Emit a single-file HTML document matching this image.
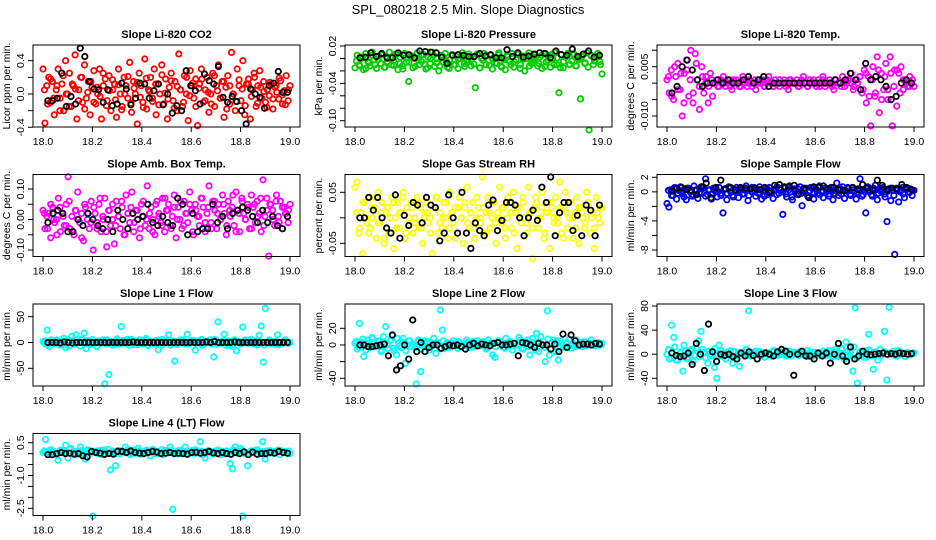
<!DOCTYPE html>
<html><head><meta charset="utf-8"><title>Slope Diagnostics</title>
<style>
html,body{margin:0;padding:0;background:#fff;}
svg{display:block;font-family:"Liberation Sans",Arial,sans-serif;}
</style></head>
<body>
<svg id="chart" width="936" height="540" viewBox="0 0 936 540" xmlns="http://www.w3.org/2000/svg">
<rect width="936" height="540" fill="#fff"/>
<text x="468" y="14" font-size="13" text-anchor="middle">SPL_080218  2.5 Min. Slope Diagnostics</text>
</svg>
<script>
const xTicks = [18.0, 18.2, 18.4, 18.6, 18.8, 19.0];
const xTickLabels = ["18.0", "18.2", "18.4", "18.6", "18.8", "19.0"];
const titles = ["Slope Li-820 CO2","Slope Li-820 Pressure","Slope Li-820 Temp.","Slope Amb. Box Temp.","Slope Gas Stream RH","Slope Sample Flow","Slope Line 1 Flow","Slope Line 2 Flow","Slope Line 3 Flow","Slope Line 4 (LT) Flow"];
const yLabels = ["Licor ppm per min.","kPa per min.","degrees C per min.","degrees C per min.","percent per min.","ml/min per min.","ml/min per min.","ml/min per min.","ml/min per min.","ml/min per min."];
const colors = ["#ff0000","#00cc00","#ff00ff","#ff00ff","#ffff00","#0000ff","#00ffff","#00ffff","#00ffff","#00ffff"];

const yTicks0 = [-0.4,-0.2,0,0.2,0.4];
const yTickLabels0 = ["-0.4","","0.0","","0.4"];
const yTicks1 = [0.02,0,-0.02,-0.04,-0.06,-0.08,-0.10];
const yTickLabels1 = ["0.02","","","-0.04","","","-0.10"];
const yTicks2 = [0.01,0.005,0,-0.005,-0.01];
const yTickLabels2 = ["","0.005","","","-0.010"];
const yTicks3 = [0.1,0.05,0,-0.05,-0.1];
const yTickLabels3 = ["0.10","","0.00","","-0.10"];
const yTicks4 = [0.05,0,-0.05];
const yTickLabels4 = ["0.05","","-0.05"];
const yTicks5 = [2,0,-2,-4,-6,-8];
const yTickLabels5 = ["2","0","","-4","","-8"];
const yTicks6 = [50,0,-50];
const yTickLabels6 = ["50","0","-50"];
const yTicks7 = [20,0,-20,-40];
const yTickLabels7 = ["20","0","","-40"];
const yTicks8 = [80,40,0,-40];
const yTickLabels8 = ["80","40","0","-40"];
const yTicks9 = [0.5,0,-0.5,-1.0,-1.5,-2.0,-2.5];
const yTickLabels9 = ["0.5","","","-1.0","","","-2.5"];

const co2 = [0.3,-0.35,0.1,0.2,-0.1,0.15,-0.25,0.05,0.3,-0.05,0.12,-0.2,0.4,0.0,0.25,-0.15,0.1,0.47,-0.3,0.05,0.2,-0.1,0.35,-0.05,0.15,-0.25,0.08,0.28,-0.12,0.0,0.3,-0.3,0.1,0.18,-0.08,0.22,-0.2,0.05,0.12,-0.28,0.3,0.0,-0.15,0.2,0.1,-0.05,0.38,-0.22,0.15,0.0,-0.36,0.25,0.1,-0.1,0.42,-0.18,0.05,0.2,-0.05,0.3,-0.25,0.12,0.0,0.35,-0.12,0.18,-0.3,0.08,0.25,-0.08,0.15,-0.2,0.48,0.05,-0.15,0.22,0.0,-0.32,0.28,0.1,-0.05,0.18,-0.38,0.12,0.3,-0.1,0.05,0.2,-0.22,0.0,0.25,-0.15,0.1,0.35,-0.05,0.15,-0.28,0.08,0.22,-0.12,0.5,0.0,-0.2,0.3,0.1,-0.08,0.4,-0.25,0.12,0.18,-0.3,0.05,0.25,-0.15,0.1,0.28,-0.05,0.15,-0.1,0.05,-0.02,0.12,-0.18,0.08,0.02,-0.06,0.16,-0.12,0.04,0.22,-0.08,0.1];
const co2Band = [0.05,-0.12,0.18,-0.05,0.1,-0.2,0.22,0.0,-0.15,0.12,0.06,-0.08,0.2,-0.18,0.02,0.15,-0.1,0.08,-0.03,0.25,-0.14,0.04,0.17,-0.07,0.11,-0.19,0.0,0.21,-0.11,0.07,0.14,-0.04,-0.16,0.19,0.03,-0.09,0.12,-0.13,0.23,0.01,-0.06,0.16,-0.17,0.09,0.05,-0.1,0.2,-0.02,0.13,-0.15,0.07,0.18,-0.08,0.02,-0.12,0.22,0.04,-0.05,0.15,-0.18,0.1,0.0,-0.09,0.17,0.06,-0.14,0.12,-0.03,0.2,-0.11,0.08,0.03,-0.16,0.14,-0.06,0.1,0.19,-0.01,-0.13,0.05];
const co2Ref = [-0.08,-0.08,-0.05,0.25,-0.15,-0.03,-0.12,0.55,0.45,0.15,0.06,0.05,-0.1,0.05,-0.14,-0.12,0.13,0.06,-0.13,-0.05,0.13,0.12,-0.05,0.04,0.12,-0.13,0.0,-0.23,-0.14,-0.2,0.28,0.1,0.04,-0.12,0.24,0.16,0.12,0.33,-0.04,-0.1,-0.03,-0.09,-0.2,-0.36,0.06,0.0,-0.04,-0.17,0.1,0.13,0.27,0.02,0.02];

const press = [-0.015,0.005,-0.01,0.0,-0.018,0.008,-0.005,-0.012,0.01,-0.002,-0.016,0.004,-0.008,0.006,-0.014,0.0,0.01,-0.01,-0.004,0.007,-0.018,0.002,-0.012,0.008,-0.006,-0.037,0.004,-0.015,0.0,0.009,-0.01,-0.005,0.006,-0.017,0.002,-0.008,0.01,-0.013,0.0,-0.02,0.005,-0.006,0.008,-0.014,-0.002,0.006,-0.01,0.004,-0.016,0.0,0.009,-0.008,-0.003,0.007,-0.012,0.002,-0.047,0.006,-0.015,0.0,0.008,-0.01,-0.004,0.005,-0.017,0.002,-0.008,0.009,-0.012,0.0,-0.018,0.006,-0.005,0.008,-0.014,-0.002,0.007,-0.01,0.004,-0.02,0.0,0.009,-0.008,-0.003,0.006,-0.012,0.002,-0.016,0.008,-0.006,0.004,-0.014,0.0,0.01,-0.01,-0.055,0.006,-0.015,0.002,0.008,-0.01,-0.004,0.007,-0.012,0.0,-0.065,0.006,-0.008,0.009,-0.115,0.004,-0.01,0.002,0.008,-0.005,-0.025];
const pressBand = [-0.004,-0.012,0.003,-0.016,-0.007,0.005,-0.01,-0.002,0.006,-0.014,-0.005,0.002,-0.011,0.007,-0.008,-0.017,0.001,-0.006,0.004,-0.013,-0.003,0.006,-0.009,-0.015,0.0,0.005,-0.007,-0.012,0.003,-0.004,-0.016,0.006,-0.01,-0.001,0.004,-0.013,-0.006,0.002,-0.009,0.007,-0.015,-0.003,0.005,-0.011,0.0,-0.007,0.006,-0.014,-0.002,0.003,-0.01,-0.005,0.007,-0.016,-0.001,0.004,-0.012,-0.006,0.002,-0.008,0.005,-0.013,-0.003,0.006,-0.01,0.001,-0.015,-0.005,0.004,-0.009,0.007,-0.012,-0.002,0.003,-0.007,-0.014,0.005,-0.004,0.002,-0.01];
const pressRef = [0.001,0.002,0.009,0.003,0.008,0.001,0.001,0.009,0.005,0.006,0.001,0.012,0.011,0.01,0.009,0.002,-0.008,0.005,0.006,0.005,0.003,0.003,0.008,0.004,0.006,0.001,0.001,0.014,0.003,0.009,0.002,0.004,0.007,0.009,0.008,0.001,0.012,0.006,0.005,0.015,0.003,0.007,0.012,0.002,0.005];

const temp = [0.001,-0.003,0.004,-0.005,0.002,0.006,-0.002,-0.01,0.003,0.007,-0.004,0.01,-0.006,0.009,0.001,-0.008,0.005,-0.003,0.002,-0.006,0.003,-0.004,0.0,0.001,-0.001,0.0,0.002,-0.001,0.0,0.001,-0.002,0.0,0.001,0.0,-0.001,0.002,0.0,-0.001,0.001,0.0,0.0,-0.002,0.001,0.0,0.001,-0.001,0.0,0.002,0.0,-0.001,0.001,0.0,-0.001,0.0,0.001,0.0,-0.002,0.001,0.0,0.0,0.001,-0.001,0.0,0.002,0.0,-0.001,0.001,0.0,0.0,-0.001,0.001,0.0,0.002,-0.001,0.0,0.001,0.0,-0.002,0.001,0.0,0.0,0.002,-0.001,0.0,0.001,0.003,-0.002,0.001,0.0,0.002,-0.003,0.004,-0.006,0.002,-0.013,0.005,-0.004,0.008,-0.009,0.003,-0.002,0.006,-0.005,0.008,-0.013,0.004,-0.007,0.003,0.005,-0.002,0.001,-0.001,0.002,0.0,-0.001];
const tempBand = [0.002,-0.004,0.005,-0.002,0.003,-0.006,0.004,0.001,-0.003,0.006,-0.001,0.002,0.0,-0.001,0.001,0.0,-0.001,0.001,0.0,0.0,-0.001,0.001,0.0,-0.001,0.0,0.001,0.0,-0.001,0.001,0.0,0.0,-0.001,0.001,0.0,-0.001,0.0,0.001,0.0,-0.001,0.001,0.0,0.0,-0.001,0.001,0.0,-0.001,0.0,0.001,0.0,-0.001,0.001,0.0,0.0,-0.001,0.001,0.0,-0.001,0.0,0.001,0.0,-0.001,0.001,0.002,-0.002,0.003,-0.004,0.001,-0.003,0.004,-0.005,0.002,-0.002,0.003,-0.001,0.004,-0.003,0.001,0.0,-0.001,0.001];
const tempRef = [-0.003,-0.001,0.005,0.007,0.004,0.001,-0.001,0.0,0.0,0.001,0.0,0.001,0.0,0.0,0.001,0.002,0.0,0.001,0.002,-0.001,0.0,0.0,0.0,0.0,0.0,0.0,0.0,0.0,0.0,0.0,0.0,0.0,0.001,0.0,0.001,0.003,0.001,-0.002,0.006,0.001,0.002,0.001,-0.001,-0.005,-0.004,0.0,0.001,0.0];

const amb = [0.03,-0.03,0.01,0.02,-0.06,0.04,-0.01,0.0,0.07,-0.04,0.02,-0.02,0.05,0.14,-0.03,0.01,-0.05,0.03,0.09,-0.01,0.02,-0.07,0.04,0.0,-0.03,0.06,-0.1,0.02,-0.01,0.05,-0.04,0.01,0.07,-0.09,0.03,-0.02,0.0,-0.08,0.06,0.01,-0.03,0.04,-0.05,0.08,0.02,-0.01,0.09,-0.04,0.03,0.0,-0.06,0.05,0.01,-0.02,0.11,-0.03,0.04,0.0,-0.05,0.06,0.02,-0.01,0.07,-0.04,0.03,0.05,-0.02,0.01,0.08,-0.06,0.04,0.0,-0.03,0.06,0.02,-0.01,0.09,0.03,-0.05,0.05,0.01,-0.02,0.07,0.04,-0.04,0.02,0.11,-0.01,0.06,0.03,-0.03,0.05,0.0,0.08,0.02,-0.05,0.06,0.01,0.04,-0.02,0.09,0.03,-0.04,0.07,0.02,0.0,0.05,-0.03,0.08,0.04,-0.01,0.06,0.02,-0.04,0.13,0.01,0.07,-0.12,0.05,0.03,-0.02,0.08,0.01,0.06,-0.03,0.04,0.02,-0.01,0.05];
const ambBand = [0.02,-0.03,0.05,0.0,-0.05,0.04,0.01,-0.02,0.06,-0.04,0.03,0.0,-0.06,0.05,0.02,-0.01,0.04,-0.03,0.07,0.0,-0.04,0.03,0.05,-0.02,0.01,0.06,-0.05,0.02,0.04,-0.01,0.03,-0.03,0.06,0.0,0.02,-0.04,0.05,0.01,-0.02,0.07,0.03,-0.03,0.04,0.0,0.06,-0.02,0.02,0.05,-0.04,0.03,0.01,0.07,-0.01,0.04,-0.03,0.06,0.02,0.0,0.05,-0.02,0.03,0.08,-0.04,0.02,0.06,0.0,0.04,-0.03,0.05,0.01,0.07,-0.02,0.03,0.05,0.0,0.06,-0.01,0.04,0.02,0.03];
const ambRef = [-0.01,0.02,0.03,0.02,-0.04,-0.04,0.0,-0.02,0.02,0.0,-0.02,-0.03,0.0,-0.04,0.03,0.0,-0.03,0.02,0.0,0.01,0.05,-0.01,-0.02,0.01,-0.01,-0.02,0.07,0.05,-0.05,0.02,-0.04,-0.03,-0.03,0.05,-0.01,0.01,-0.03,0.02,0.03,0.04,0.03,0.01,-0.01,0.03,-0.01,0.01,-0.02,-0.03,0.01];

const rh = [0.06,0.07,-0.03,0.01,-0.07,0.03,-0.01,0.04,-0.02,0.0,0.02,-0.04,0.05,-0.01,0.03,-0.05,0.01,0.02,-0.03,0.04,-0.06,0.0,0.03,-0.02,0.01,0.05,-0.04,0.02,-0.01,0.03,-0.03,0.0,0.04,-0.02,0.02,-0.05,0.01,0.03,-0.01,0.0,-0.07,0.02,0.04,-0.03,0.01,-0.02,0.03,0.0,-0.04,0.05,0.01,-0.01,0.02,-0.03,0.04,0.0,-0.05,0.02,0.06,-0.02,0.01,0.03,-0.04,0.0,0.02,-0.01,0.08,-0.03,0.01,0.04,-0.02,0.0,0.03,-0.05,0.01,0.06,-0.01,0.02,-0.04,0.0,0.03,-0.02,0.05,0.01,-0.06,0.02,-0.01,0.04,0.0,-0.03,0.06,0.01,-0.08,0.02,0.03,-0.02,0.0,0.05,-0.04,0.01,0.03,-0.06,0.02,0.0,0.04,-0.01,0.07,-0.03,0.02,0.05,-0.02,0.0,0.03,-0.04,0.01,0.04,-0.05,0.02,0.0,-0.02,0.05,0.03,-0.03,0.01,-0.06,0.04,0.0,-0.01,0.02];
const rhBand = [0.01,-0.02,0.03,0.0,-0.03,0.02,0.04,-0.01,0.01,-0.04,0.02,0.0,0.03,-0.02,0.01,0.04,-0.03,0.0,0.02,-0.01,0.03,-0.02,0.0,0.01,-0.03,0.02,0.04,-0.01,0.0,0.03,-0.02,0.01,-0.04,0.02,0.0,0.03,-0.01,0.01,-0.02,0.04,0.0,0.02,-0.03,0.01,0.03,-0.01,0.0,0.02,-0.02,0.04,0.01,-0.03,0.02,0.0,0.03,-0.01,0.01,-0.02,0.04,0.0,0.02,-0.03,0.01,0.03,-0.01,0.0,0.02,-0.04,0.01,0.03,0.0,-0.02,0.02,0.01,-0.01,0.03,0.0,-0.02,0.01,0.02];
const rhRef = [0.0,0.0,0.04,0.015,0.04,0.0,-0.02,-0.03,0.045,-0.04,0.005,-0.015,0.03,0.025,-0.01,0.04,0.025,0.02,-0.045,-0.03,0.045,0.0,-0.03,0.05,-0.03,-0.06,-0.01,-0.025,-0.035,0.025,0.035,-0.025,-0.005,0.03,0.03,0.025,0.0,-0.035,0.0,0.015,-0.005,0.06,0.03,0.08,-0.035,0.01,0.03,0.03,-0.025,0.005,-0.035,0.025,0.015,-0.035,0.025];

const sample = [-1.6,-2.1,0.3,-0.5,0.6,-1.0,0.2,0.7,-0.3,0.4,-1.1,0.5,0.0,-0.6,0.8,0.2,-0.9,0.4,-0.2,0.6,1.8,-0.4,0.3,-1.0,0.5,0.1,-0.7,0.6,-0.2,-2.9,0.4,-1.1,0.7,0.0,-0.5,0.3,0.6,-0.8,0.2,0.5,-0.3,0.8,-1.2,0.4,0.0,0.6,-0.6,0.3,0.7,-1.0,0.2,0.5,-0.4,0.6,0.1,-0.9,0.4,0.7,-0.2,0.3,-3.1,0.5,-0.7,0.6,0.0,-1.1,0.4,0.2,-0.4,0.7,-1.9,0.3,0.5,-0.6,0.1,0.6,-1.0,0.4,-0.2,0.8,0.0,-0.8,0.5,0.3,-0.3,0.6,-1.1,0.2,1.2,-0.5,0.4,0.7,-0.9,0.1,0.5,-0.3,0.6,0.0,-1.0,0.4,1.8,-0.6,0.3,-2.9,0.7,0.2,-0.4,0.5,0.9,-1.1,0.3,0.0,0.6,-0.7,-4.1,0.4,-1.2,0.2,-8.6,0.5,-1.4,0.1,0.6,-0.8,0.3,0.0,0.4,-0.5,0.2];
const sampleBand = [0.2,-0.5,0.4,-0.2,0.1,-0.7,0.5,0.0,-0.4,0.3,-0.1,0.6,-0.6,0.2,-0.3,0.4,0.0,-0.5,0.3,-0.2,0.5,-0.7,0.1,0.4,-0.3,0.2,-0.5,0.6,0.0,-0.2,0.3,-0.6,0.4,-0.1,0.2,-0.4,0.5,0.0,-0.3,0.3,-0.7,0.1,0.4,-0.2,0.2,-0.5,0.6,-0.1,0.3,-0.4,0.0,0.5,-0.6,0.2,-0.2,0.4,-0.3,0.1,0.6,-0.5,0.3,-0.1,0.2,-0.4,0.5,0.0,-0.6,0.3,-0.2,0.4,-0.3,0.1,0.5,-0.5,0.2,0.0,-0.3,0.4,-0.1,0.2];
const sampleRef = [0.1,0.5,0.6,0.3,0.2,-0.4,0.7,1.2,-0.8,0.6,1.6,0.4,0.6,0.3,0.6,0.5,0.4,0.5,0.3,0.6,-0.1,0.9,1.0,0.7,0.8,0.9,-0.3,0.5,-0.8,0.7,0.6,0.8,0.4,0.6,0.3,0.2,0.5,0.6,0.3,1.0,0.5,0.3,1.6,0.9,0.3,0.5,0.4,1.0,0.6,0.3];

const line1 = [2,-3,24,-8,5,-2,0,4,-5,1,8,-10,3,-6,12,-2,15,0,-7,5,18,-12,4,-3,6,0,-8,3,-2,1,-80,5,-62,2,0,-4,7,-3,31,4,-1,6,-5,2,0,3,-4,5,-2,1,8,-6,3,0,-3,4,-14,2,6,-2,0,15,-5,3,-36,2,-1,0,5,-3,16,-2,4,0,-15,3,-1,6,-4,2,0,5,-3,-28,4,40,-2,1,16,-6,3,0,-8,5,-16,2,-3,30,4,-1,0,6,-2,3,-5,14,32,-38,66,0,5,-3,2,-4,15,0,-2,3,1,-1,0];
const line1Band = [3,-4,1,-2,5,-1,2,-5,0,4,-3,1,6,-2,3,-4,0,2,-1,5,-3,1,-5,4,0,-2,3,-1,6,-4,2,0,-3,5,-1,1,-2,4,-5,3,0,-1,2,-4,5,1,-3,0,4,-2,3,-5,1,2,-1,6,-3,0,4,-2,1,-4,3,0,-1,5,-2,2,-3,4,0,-5,1,3,-1,2,-4,0,5,-2];
const line1Ref = [0,0,0,-1,1,0,-1,0,0,0,0,0,0,0,0,0,0,0,0,0,0,1,0,0,0,0,0,0,0,0,0,0,0,0,0,0,0,0,0,1,0,2,0,0,0,0,1,0,0,0,0,0,0,0,0,0,0,0,0,0];

const line2 = [2,-5,26,3,-14,0,6,-3,8,-2,0,4,-6,10,22,-4,5,12,-7,-12,2,-3,8,-22,0,5,-2,0,-47,4,-32,-1,5,3,-6,0,8,-10,2,42,18,-4,3,0,-2,5,1,-4,3,-1,2,6,-3,0,4,-2,5,-1,3,0,-5,6,2,-12,-15,3,5,0,-3,8,-1,4,-6,2,0,9,-4,-5,1,6,-12,3,-2,14,-8,10,0,-20,41,-12,3,6,-8,-18,5,0,-3,2,7,-4,-1,6,0,3,-2,4,0,2,6,1,-1,3,0,2];
const line2Band = [4,-3,7,-6,2,9,-2,5,-8,3,0,6,-4,8,-1,3,-7,5,1,-3,6,-5,2,4,-2,0,3,-4,5,1,-3,2,-1,4,-2,0,3,-3,1,2,-1,4,-3,0,2,-2,5,1,-4,3,-1,2,0,6,-5,3,-2,8,-6,4,1,-3,7,-4,2,5,-2,0,3,-1,2,-2,1,3,-1,0,2,-1,1,0];
const line2Ref = [0,0,-2,-2,-1,0,1,-13,12,-30,-25,0,-17,30,-8,3,-8,-3,0,0,-4,-2,0,-1,0,-2,-5,0,2,-1,1,0,-1,2,3,0,0,1,2,-13,3,2,0,-3,2,0,0,-5,1,-8,13,-3,12,5,0,1,1,0,2,1];

const line3 = [0,-8,48,28,-10,-3,2,-28,5,-5,0,8,-2,18,22,38,3,-6,-15,0,5,-22,-40,15,-3,2,-8,0,6,-15,4,-2,-20,3,0,8,72,-3,2,5,-1,4,0,-5,3,2,-3,6,0,-2,4,-1,2,0,5,-3,3,0,-2,4,1,-1,6,0,-4,3,2,-1,0,5,-2,3,0,-3,4,-1,2,8,0,20,-3,5,-28,77,-48,3,0,-5,6,33,-2,-25,4,-10,8,2,38,-43,78,0,5,-3,6,0,2,-4,3,1,0,2];
const line3Band = [8,-6,12,-10,4,15,-8,6,-12,10,-4,8,-6,5,-3,9,-2,6,-4,3,-1,5,-3,2,0,4,-2,3,-1,5,-3,2,1,-2,4,-1,3,0,-3,5,-2,1,3,-1,2,-4,4,0,-2,3,1,-1,6,-5,8,-4,10,-8,5,-3,12,-6,4,2,-5,7,-3,3,0,-2,4,-1,2,1,-3,3,0,1,-1,2];
const line3Ref = [2,-2,-4,-3,2,-17,18,0,-27,50,4,-12,0,-2,0,-4,-8,2,-3,4,-2,-8,0,2,0,-3,4,8,5,0,-35,0,5,-3,-3,-8,2,-3,2,-15,0,18,-3,-12,12,-8,-3,5,0,-1,0,1,2,0,1,0,2,1,0,1];

const line4 = [0.05,0.65,0.1,-0.05,0.12,0.0,-0.3,0.15,0.08,0.38,-0.2,0.25,0.05,-0.05,0.1,0.3,0.0,-0.25,0.12,0.05,-2.85,0.1,0.02,0.15,-0.05,0.1,0.2,-0.75,0.08,-0.55,0.12,0.0,0.05,0.3,0.1,-0.05,0.15,0.02,0.25,0.08,-0.02,0.12,0.05,-0.1,0.2,0.0,0.1,0.05,-0.05,0.15,0.08,0.3,-2.55,0.05,0.12,0.0,0.1,0.3,-0.05,0.08,0.15,0.02,0.1,0.55,-0.05,-0.2,0.12,0.05,0.0,0.1,0.15,-0.05,0.08,0.1,0.02,-0.45,-0.7,0.3,0.12,0.25,-2.85,0.0,-0.55,0.1,0.05,0.15,-0.05,0.08,0.55,-0.25,0.12,0.02,0.1,0.05,0.15,-0.05,0.1,0.08,0.02,0.0];
const line4Band = [0.12,0.02,0.18,0.06,-0.04,0.15,0.08,0.0,0.2,0.04,0.1,-0.02,0.14,0.06,0.18,0.02,0.1,0.12,-0.03,0.16,0.07,0.03,0.12,0.0,0.15,0.08,0.05,0.18,0.02,0.1,0.14,-0.02,0.08,0.16,0.04,0.12,0.06,0.0,0.18,0.1,0.03,0.14,0.07,-0.01,0.16,0.05,0.12,0.09,0.02,0.18,0.06,0.1,0.0,0.14,0.08,0.04,0.16,0.11,-0.02,0.12,0.07,0.18,0.03,0.1,0.15,0.05,0.0,0.13,0.08,0.17,0.04,0.1,0.06,0.14,0.02,0.11,0.16,0.07,0.09,0.12];
const line4Ref = [-0.05,-0.05,0.0,0.05,0.0,0.02,-0.02,0.0,-0.1,-0.15,0.1,0.05,0.02,-0.03,0.0,-0.02,0.1,0.1,0.05,0.12,0.05,0.02,0.0,0.05,0.1,0.07,0.0,0.02,0.05,0.0,0.02,0.0,-0.02,0.05,0.06,0.02,0.05,0.1,0.03,0.0,0.05,0.0,-0.03,0.05,0.0,0.08,-0.05,0.07,-0.02,0.0,0.0,0.05,0.02,0.1,0.05,0.02];

const seriesList = [co2,press,temp,amb,rh,sample,line1,line2,line3,line4];
const bandList = [co2Band,pressBand,tempBand,ambBand,rhBand,sampleBand,line1Band,line2Band,line3Band,line4Band];
const refList = [co2Ref,pressRef,tempRef,ambRef,rhRef,sampleRef,line1Ref,line2Ref,line3Ref,line4Ref];
const tickList = [yTicks0,yTicks1,yTicks2,yTicks3,yTicks4,yTicks5,yTicks6,yTicks7,yTicks8,yTicks9];
const tickLabelList = [yTickLabels0,yTickLabels1,yTickLabels2,yTickLabels3,yTickLabels4,yTickLabels5,yTickLabels6,yTickLabels7,yTickLabels8,yTickLabels9];
// axis calibration: [value A, pixel offset A, value B, pixel offset B] relative to box top
const calib = [[0.4,15.7,-0.4,82.3],[0.02,1,-0.10,75.7],[0.005,21.7,-0.01,71],[0.1,14.5,-0.1,75.5],[0.05,17.8,-0.05,68.8],[2,2.8,-8,75.5],[50,12.7,-50,64.3],[20,24.3,-40,74.3],[80,2,-40,74.3],[0.5,9.2,-2.5,74.8]];

const NS = "http://www.w3.org/2000/svg";
const svg = document.getElementById('chart');
const rowTops = [45,174.5,304,433.5];
const BOXH = 82, BOXW = 267;
const R = 2.7, SW = 1.8;

function mk(tag, attrs, parent){
  const e = document.createElementNS(NS, tag);
  for (const k in attrs) e.setAttribute(k, attrs[k]);
  parent.appendChild(e);
  return e;
}

for (let p = 0; p < 10; p++) {
  const col = p % 3, row = Math.floor(p / 3);
  const left = 33 + 312 * col, top = rowTops[row];
  const xScale = v => 43 + 312 * col + (v - 18.0) * 247;
  const c = calib[p];
  const yScale = v => top + c[1] + (v - c[0]) * (c[3] - c[1]) / (c[2] - c[0]);

  const g = mk('g', {}, svg);
  
  

  const t = mk('text', {x: left + BOXW / 2, y: top - 7, 'font-size': 11, 'font-weight': 'bold', 'text-anchor': 'middle'}, g);
  t.textContent = titles[p];
  
  

  const yl = mk('text', {x: 0, y: 0, 'font-size': 10.5, 'text-anchor': 'middle', transform: `translate(${left - 23},${top + BOXH / 2}) rotate(-90)`}, g);
  yl.textContent = yLabels[p];
  
  

  const pts = mk('g', {fill: 'none', stroke: colors[p], 'stroke-width': SW}, g);
  
  
  const b = bandList[p];
  for (let i = 0; i < b.length; i++) {
    const cx = xScale(18.0 + (i + 0.5) / b.length);
    const cy = yScale(b[i]);
    const ci = mk('circle', {cx: cx.toFixed(1), cy: cy.toFixed(1), r: R}, pts);
    
    
  }
  const s = seriesList[p];
  for (let i = 0; i < s.length; i++) {
    const cx = xScale(18.0 + i / (s.length - 1));
    const cy = yScale(s[i]);
    const ci = mk('circle', {cx: cx.toFixed(1), cy: cy.toFixed(1), r: R}, pts);
    
    
  }
  const rg = mk('g', {fill: 'none', stroke: '#000', 'stroke-width': SW}, g);
  
  
  const r = refList[p];
  for (let i = 0; i < r.length; i++) {
    const cx = xScale(18.02 + 0.97 * i / (r.length - 1));
    const cy = yScale(r[i]);
    const ci = mk('circle', {cx: cx.toFixed(1), cy: cy.toFixed(1), r: R}, rg);
    
    
  }

  const box = mk('rect', {x: left, y: top, width: BOXW, height: BOXH, fill: 'none', stroke: '#000', 'stroke-width': 1}, g);
  
  

  const xa = mk('g', {}, g);
  
  
  const bot = top + BOXH;
  mk('line', {x1: xScale(xTicks[0]), x2: xScale(xTicks[xTicks.length - 1]), y1: bot, y2: bot, stroke: '#000'}, xa);
  xTicks.forEach((v, i) => {
    const x = xScale(v);
    mk('line', {x1: x, x2: x, y1: bot, y2: bot + 5, stroke: '#000'}, xa);
    const lt = mk('text', {x: x, y: bot + 18, 'font-size': 10.5, 'text-anchor': 'middle'}, xa);
    lt.textContent = xTickLabels[i];
    
    
  });

  const ya = mk('g', {}, g);
  
  
  const ticks = tickList[p], tl = tickLabelList[p];
  const ys = ticks.map(yScale);
  mk('line', {x1: left, x2: left, y1: Math.min(...ys), y2: Math.max(...ys), stroke: '#000'}, ya);
  ticks.forEach((v, i) => {
    const y = yScale(v);
    mk('line', {x1: left - 5, x2: left, y1: y, y2: y, stroke: '#000'}, ya);
    if (tl[i]) {
      const lt = mk('text', {x: 0, y: 0, 'font-size': 10.5, 'text-anchor': 'middle', transform: `translate(${left - 9},${y}) rotate(-90)`}, ya);
      lt.textContent = tl[i];
      
      
    }
  });
}
</script>
</body></html>
